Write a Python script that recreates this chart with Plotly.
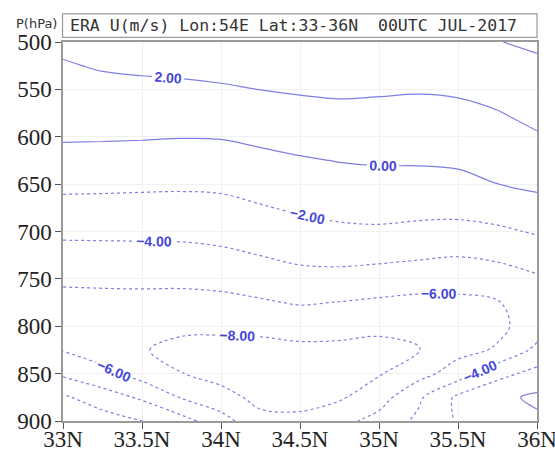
import numpy as np
import plotly.graph_objects as go

# Latitudes (deg N) and pressure levels (hPa)
lats = [33.0, 33.25, 33.5, 33.75, 34.0, 34.25, 34.5, 34.75, 35.0, 35.25, 35.5, 35.75, 36.0]
pressures = [500, 525, 550, 575, 600, 625, 650, 675, 700, 725, 750, 775, 800, 825, 850, 875, 900]

# U wind (m/s) per latitude column, top (500 hPa) to bottom (900 hPa)
u_33_00 = [2.4, 1.85, 1.31, 0.76, 0.19, -0.62, -1.57, -2.57, -3.62, -4.66, -5.69, -6.6, -7.0, -6.1, -4.37, -1.7, -1.0]
u_33_25 = [2.82, 2.16, 1.5, 0.84, 0.17, -0.68, -1.61, -2.59, -3.6, -4.63, -5.67, -6.5, -7.3, -7.0, -5.43, -3.07, -1.07]
u_33_50 = [3.04, 2.31, 1.58, 0.86, 0.13, -0.75, -1.67, -2.62, -3.59, -4.59, -5.63, -6.5, -7.4, -7.9, -6.8, -4.3, -1.97]
u_33_75 = [3.22, 2.43, 1.64, 0.85, 0.06, -0.82, -1.71, -2.64, -3.57, -4.55, -5.57, -6.62, -7.7, -8.4, -7.97, -6.13, -3.3]
u_34_00 = [3.47, 2.63, 1.78, 0.94, 0.1, -0.77, -1.65, -2.53, -3.41, -4.35, -5.41, -6.52, -7.7, -8.5, -8.5, -7.5, -5.1]
u_34_25 = [3.66, 2.84, 2.02, 1.2, 0.38, -0.45, -1.29, -2.13, -3.06, -3.98, -5.1, -6.2, -7.6, -8.5, -8.8, -8.4, -7.6]
u_34_50 = [3.75, 2.97, 2.19, 1.41, 0.63, -0.16, -0.96, -1.75, -2.64, -3.56, -4.63, -5.85, -7.28, -8.4, -8.8, -8.6, -7.6]
u_34_75 = [3.79, 3.04, 2.3, 1.55, 0.81, 0.06, -0.71, -1.48, -2.35, -3.42, -4.61, -6.05, -7.4, -8.4, -8.7, -8.25, -6.6]
u_35_00 = [3.57, 2.89, 2.21, 1.53, 0.85, 0.16, -0.56, -1.38, -2.27, -3.51, -4.86, -6.3, -7.7, -8.4, -8.15, -6.88, -5.3]
u_35_25 = [3.44, 2.78, 2.13, 1.48, 0.82, 0.17, -0.58, -1.47, -2.45, -3.71, -5.11, -6.5, -7.52, -8.1, -6.72, -4.35, -3.6]
u_35_50 = [3.52, 2.87, 2.23, 1.59, 0.94, 0.3, -0.51, -1.45, -2.56, -3.91, -5.28, -6.4, -6.9, -6.6, -5.06, -1.6, -1.8]
u_35_75 = [3.95, 3.27, 2.59, 1.92, 1.28, 0.64, -0.01, -1.14, -2.32, -3.63, -4.89, -6.1, -6.45, -5.8, -2.6, -0.5, -1.2]
u_36_00 = [4.29, 3.69, 3.08, 2.48, 1.84, 1.09, 0.34, -0.64, -1.82, -3.07, -4.25, -5.2, -5.0, -3.51, -1.39, 0.35, -0.35]

x_tickvals = [33, 33.5, 34, 34.5, 35, 35.5, 36]
x_ticktext = ["33N", "33.5N", "34N", "34.5N", "35N", "35.5N", "36N"]
y_tickvals = [500, 550, 600, 650, 700, 750, 800, 850, 900]

title_text = "ERA U(m/s) Lon:54E Lat:33-36N\u00a0\u00a000UTC JUL-2017"

columns = [u_33_00, u_33_25, u_33_50, u_33_75, u_34_00, u_34_25, u_34_50,
           u_34_75, u_35_00, u_35_25, u_35_50, u_35_75, u_36_00]
z = np.array(columns).T  # rows = pressure, cols = latitude

line_color = "#7f7fe2"
label_font = dict(family="Liberation Sans", size=14, color="#4646d8", weight="bold")

fig = go.Figure()
fig.add_trace(go.Contour(
    x=lats, y=pressures, z=z,
    contours=dict(start=0, end=4, size=2, coloring="none", showlabels=True,
                  labelformat=".2f", labelfont=label_font),
    line=dict(color=line_color, width=1.2, smoothing=1.0, dash="solid"),
    showscale=False, hoverinfo="skip",
))
fig.add_trace(go.Contour(
    x=lats, y=pressures, z=z,
    contours=dict(start=-8, end=-2, size=2, coloring="none", showlabels=True,
                  labelformat=".2f", labelfont=label_font),
    line=dict(color=line_color, width=1.2, smoothing=1.0, dash="dot"),
    showscale=False, hoverinfo="skip",
))

axis_common = dict(
    showline=True, linecolor="#9a9a9a", linewidth=1.5, mirror=True,
    ticks="outside", ticklen=6, tickcolor="#555555", tickwidth=1.2,
    showgrid=True, gridcolor="#f1f1f1", gridwidth=1, zeroline=False,
    automargin=False, ticklabeloverflow="allow",
    tickfont=dict(family="Liberation Serif", size=23, color="#222222"),
)

fig.update_layout(
    width=555, height=451,
    margin=dict(l=63, r=18, t=42, b=30),
    paper_bgcolor="white", plot_bgcolor="white",
    showlegend=False,
    xaxis=dict(range=[33, 36], tickvals=x_tickvals, ticktext=x_ticktext,
               ticklabelstandoff=-9, **axis_common),
    yaxis=dict(range=[900, 500], tickvals=y_tickvals, ticklabelstandoff=-1, **axis_common),
    shapes=[dict(type="rect", xref="paper", yref="paper",
                 x0=-0.001, x1=1.0, y0=1.012, y1=1.074,
                 line=dict(color="#9a9a9a", width=1.2), fillcolor="white")],
    annotations=[
        dict(text=title_text, xref="paper", yref="paper", x=0.011, y=1.0435,
             xanchor="left", yanchor="middle", showarrow=False,
             font=dict(family="DejaVu Sans Mono", size=16.5, color="#333333")),
        dict(text="P(hPa)", xref="paper", yref="paper", x=-0.103, y=1.048,
             xanchor="left", yanchor="middle", showarrow=False,
             font=dict(family="DejaVu Sans", size=13, color="#333333")),
    ],
)

fig.write_html("out.html")
